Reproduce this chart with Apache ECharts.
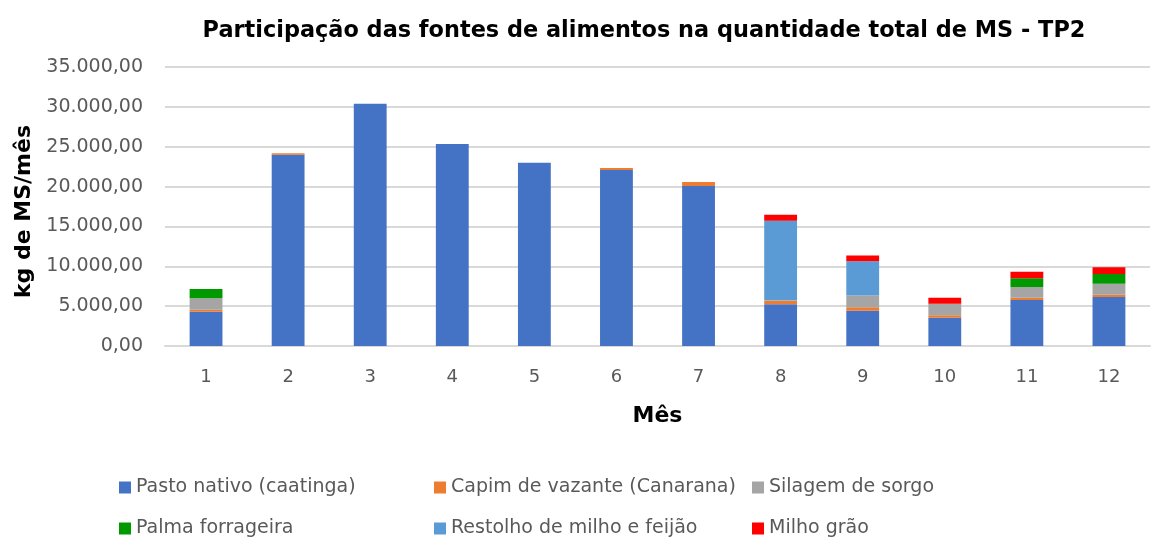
<!DOCTYPE html>
<html>
<head>
<meta charset="utf-8">
<script src="https://cdn.jsdelivr.net/npm/echarts@6/dist/echarts.min.js"></script>
<style>html,body{margin:0;padding:0;background:#fff;}#c{width:1152px;height:541px;}</style>
</head>
<body>
<div id="c"></div>
<script>
const months = ['1','2','3','4','5','6','7','8','9','10','11','12'];
const pasto    = [4300, 24000, 30400, 25350, 23000, 22080, 20080, 5230, 4430, 3550, 5770, 6150];
const capim    = [250, 170, 0, 0, 0, 250, 500, 450, 430, 300, 290, 290];
const silagem  = [1430, 0, 0, 0, 0, 0, 0, 60, 1460, 1460, 1340, 1380];
const palma    = [1170, 0, 0, 0, 0, 0, 0, 0, 0, 0, 1090, 1220];
const restolho = [0, 0, 0, 0, 0, 0, 0, 9970, 4320, 0, 0, 0];
const milho    = [0, 0, 0, 0, 0, 0, 0, 750, 700, 750, 830, 840];
const seriesNames = ['Pasto nativo (caatinga)', 'Capim de vazante (Canarana)', 'Silagem de sorgo', 'Palma forrageira', 'Restolho de milho e feijão', 'Milho grão'];
const colors = ['#4472C4', '#ED7D31', '#A5A5A5', '#009A00', '#5B9BD5', '#FF0000'];

const fmt = v => {
  const s = Math.round(v).toString().replace(/\B(?=(\d{3})+(?!\d))/g, '.');
  return s + ',00';
};
const dataSets = [pasto, capim, silagem, palma, restolho, milho];
const chart = echarts.init(document.getElementById('c'), null, {renderer: 'canvas'});
const legendText = {color: '#595959', fontSize: 19, fontFamily: 'DejaVu Sans'};
const legendCols = [114, 429, 747];
const legendRows = [473, 514];
const legends = seriesNames.map((n, i) => ({
  left: legendCols[i % 3], top: legendRows[Math.floor(i / 3)],
  itemWidth: 12, itemHeight: 12, itemGap: 8,
  icon: 'rect', textStyle: legendText, data: [n]
}));
const boldText = {fontFamily: 'DejaVu Sans', fontWeight: 'bold', fontSize: 22, color: '#000'};
chart.setOption({
  animation: false,
  color: colors,
  title: {
    text: 'Participação das fontes de alimentos na quantidade total de MS - TP2',
    left: 639, top: 15, textAlign: 'center',
    textStyle: Object.assign({}, boldText, {fontSize: 22.4})
  },
  legend: legends,
  grid: {left: 165, right: 2, top: 67, bottom: 195},
  xAxis: {
    type: 'category', data: months,
    name: 'Mês', nameLocation: 'middle', nameGap: 59,
    nameTextStyle: boldText,
    axisLine: {lineStyle: {color: '#d9d9d9', width: 2}},
    axisTick: {show: false},
    axisLabel: {color: '#595959', fontSize: 18, fontFamily: 'DejaVu Sans', margin: 22}
  },
  yAxis: {
    type: 'value', min: 0, max: 35000, interval: 5000,
    name: 'kg de MS/mês', nameLocation: 'middle', nameGap: 128, nameRotate: 90,
    nameTextStyle: Object.assign({padding: [0, 10, 0, 0]}, boldText),
    axisLine: {show: false}, axisTick: {show: false},
    splitLine: {lineStyle: {color: '#d9d9d9', width: 2}},
    axisLabel: {color: '#595959', fontSize: 19, fontFamily: 'DejaVu Sans', margin: 22, formatter: fmt}
  },
  series: seriesNames.map((n, i) => ({
    name: n, type: 'bar', stack: 'total', barWidth: '40%',
    data: dataSets[i], itemStyle: {color: colors[i]}
  }))
});
</script>
</body>
</html>
